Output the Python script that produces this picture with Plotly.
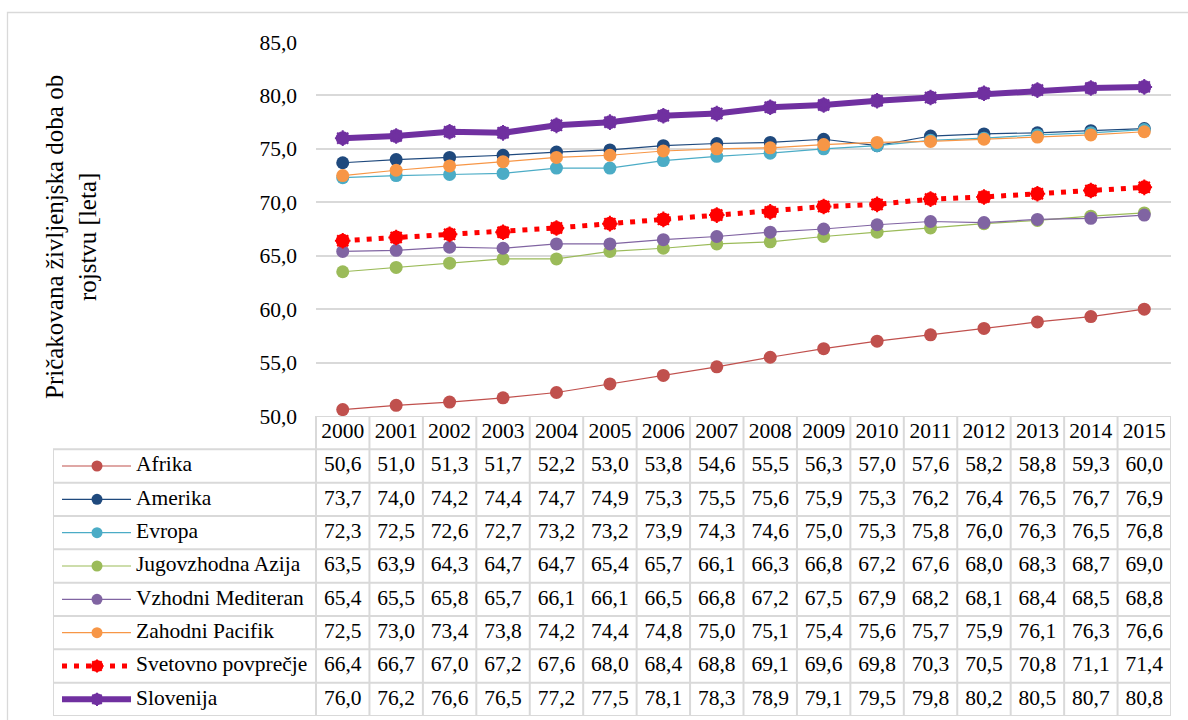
import plotly.graph_objects as go

# Life expectancy at birth by WHO region, Slovenia and world average
years = list(range(2000, 2016))
series_names = [
    "Afrika", "Amerika", "Evropa", "Jugovzhodna Azija",
    "Vzhodni Mediteran", "Zahodni Pacifik", "Svetovno povprečje", "Slovenija",
]
afrika = [50.6, 51.0, 51.3, 51.7, 52.2, 53.0, 53.8, 54.6, 55.5, 56.3, 57.0, 57.6, 58.2, 58.8, 59.3, 60.0]
amerika = [73.7, 74.0, 74.2, 74.4, 74.7, 74.9, 75.3, 75.5, 75.6, 75.9, 75.3, 76.2, 76.4, 76.5, 76.7, 76.9]
evropa = [72.3, 72.5, 72.6, 72.7, 73.2, 73.2, 73.9, 74.3, 74.6, 75.0, 75.3, 75.8, 76.0, 76.3, 76.5, 76.8]
jv_azija = [63.5, 63.9, 64.3, 64.7, 64.7, 65.4, 65.7, 66.1, 66.3, 66.8, 67.2, 67.6, 68.0, 68.3, 68.7, 69.0]
v_mediteran = [65.4, 65.5, 65.8, 65.7, 66.1, 66.1, 66.5, 66.8, 67.2, 67.5, 67.9, 68.2, 68.1, 68.4, 68.5, 68.8]
z_pacifik = [72.5, 73.0, 73.4, 73.8, 74.2, 74.4, 74.8, 75.0, 75.1, 75.4, 75.6, 75.7, 75.9, 76.1, 76.3, 76.6]
svet = [66.4, 66.7, 67.0, 67.2, 67.6, 68.0, 68.4, 68.8, 69.1, 69.6, 69.8, 70.3, 70.5, 70.8, 71.1, 71.4]
slovenija = [76.0, 76.2, 76.6, 76.5, 77.2, 77.5, 78.1, 78.3, 78.9, 79.1, 79.5, 79.8, 80.2, 80.5, 80.7, 80.8]
all_values = [afrika, amerika, evropa, jv_azija, v_mediteran, z_pacifik, svet, slovenija]
y_title = "Pričakovana življenjska doba ob<br>rojstvu [leta]"

# styles: (colour, line width, dash, marker size, spiky marker)
styles = [
    ("#C0504D", 1.2, "solid", 13, False),
    ("#1F497D", 1.2, "solid", 13, False),
    ("#4BACC6", 1.2, "solid", 13, False),
    ("#9BBB59", 1.2, "solid", 13, False),
    ("#8064A2", 1.2, "solid", 13, False),
    ("#F79646", 1.2, "solid", 13, False),
    ("#FF0000", 5, "5px,7px", 14, True),
    ("#7030A0", 6, "solid", 14, True),
]

W, H = 1188, 720
FONT = "Liberation Serif"
FS = 21.5
GRID = "#D9D9D9"

# pixel geometry
plot_l, plot_r, plot_t, plot_b = 316, 1171, 42, 416
table_l, table_b = 53, 716
n = len(years)
col_w = (plot_r - plot_l) / n
legend_cols = (plot_l - table_l) / col_w
x2_min = -0.5 - legend_cols


def px_to_x2(px):
    return x2_min + (px - table_l) / col_w


fig = go.Figure()
xs = list(range(n))

for name, vals, (col, lw, dash, ms, spiky) in zip(series_names, all_values, styles):
    fig.add_trace(go.Scatter(
        x=xs, y=vals, mode="lines+markers", name=name, showlegend=False,
        line=dict(color=col, width=lw, dash=dash),
        marker=dict(symbol="circle", size=ms, color=col, line=dict(width=0)),
        hoverinfo="skip",
    ))
    if spiky:
        # small jagged rim around the round marker
        fig.add_trace(go.Scatter(
            x=xs, y=vals, mode="markers", showlegend=False,
            marker=dict(symbol="asterisk-open", size=ms - 1, color=col,
                        line=dict(color=col, width=2)),
            hoverinfo="skip",
        ))

# data table: rows (header + one per series) on the second axis pair
n_rows = len(series_names) + 1


def row_y(r):
    return n_rows - r - 0.5


text_font = dict(family=FONT, size=FS, color="black")

# header years
fig.add_trace(go.Scatter(
    x=xs, y=[row_y(0)] * n, mode="text", text=[str(y) for y in years],
    textfont=text_font, xaxis="x2", yaxis="y2", showlegend=False, hoverinfo="skip",
))

leg_x0, leg_x1, leg_m, leg_txt = px_to_x2(62), px_to_x2(131), px_to_x2(97), px_to_x2(136)
for i, (name, vals, (col, lw, dash, ms, spiky)) in enumerate(zip(series_names, all_values, styles)):
    ry = row_y(i + 1)
    fig.add_trace(go.Scatter(
        x=xs, y=[ry] * n, mode="text",
        text=[f"{v:.1f}".replace(".", ",") for v in vals],
        textfont=text_font, xaxis="x2", yaxis="y2", showlegend=False, hoverinfo="skip",
    ))
    # legend key inside the table
    fig.add_trace(go.Scatter(
        x=[leg_x0, leg_x1], y=[ry, ry], mode="lines",
        line=dict(color=col, width=lw, dash=dash),
        xaxis="x2", yaxis="y2", showlegend=False, hoverinfo="skip",
    ))
    fig.add_trace(go.Scatter(
        x=[leg_m], y=[ry], mode="markers",
        marker=dict(symbol="circle", size=11 if not spiky else 12, color=col),
        xaxis="x2", yaxis="y2", showlegend=False, hoverinfo="skip",
    ))
    if spiky:
        fig.add_trace(go.Scatter(
            x=[leg_m], y=[ry], mode="markers",
            marker=dict(symbol="asterisk-open", size=11, color=col,
                        line=dict(color=col, width=2)),
            xaxis="x2", yaxis="y2", showlegend=False, hoverinfo="skip",
        ))
    fig.add_trace(go.Scatter(
        x=[leg_txt], y=[ry], mode="text", text=[name], textposition="middle right",
        textfont=text_font, xaxis="x2", yaxis="y2", showlegend=False, hoverinfo="skip",
    ))

# table grid lines
shapes = []
line_style = dict(color=GRID, width=2)
for k in range(0, n_rows):
    shapes.append(dict(type="line", xref="x2", yref="y2", x0=x2_min, x1=n - 0.5,
                       y0=k, y1=k, line=line_style, layer="below"))
shapes.append(dict(type="line", xref="x2", yref="y2", x0=-0.5, x1=n - 0.5,
                   y0=n_rows, y1=n_rows, line=line_style, layer="below"))
for c in range(n + 1):
    shapes.append(dict(type="line", xref="x2", yref="y2", x0=c - 0.5, x1=c - 0.5,
                       y0=0, y1=n_rows, line=line_style, layer="below"))
shapes.append(dict(type="line", xref="x2", yref="y2", x0=x2_min, x1=x2_min,
                   y0=0, y1=n_rows - 1, line=line_style, layer="below"))
# chart area border
shapes.append(dict(type="rect", xref="paper", yref="paper",
                   x0=7.5 / W, x1=1.01, y0=-0.01, y1=1 - 12.5 / H,
                   line=dict(color=GRID, width=1.3), layer="below"))

fig.update_layout(
    width=W, height=H,
    margin=dict(l=0, r=0, t=0, b=0, pad=0, autoexpand=False),
    paper_bgcolor="white", plot_bgcolor="white",
    separators=",.",
    font=dict(family=FONT, size=FS, color="black"),
    shapes=shapes,
    xaxis=dict(domain=[plot_l / W, plot_r / W], range=[-0.5, n - 0.5], automargin=False,
               showticklabels=False, showgrid=False, zeroline=False, fixedrange=True),
    yaxis=dict(domain=[1 - plot_b / H, 1 - plot_t / H], range=[50, 85], dtick=5,
               tickformat=".1f", showgrid=True, gridcolor=GRID, gridwidth=1.7,
               zeroline=False, showline=False, ticks="", ticklabelstandoff=18,
               automargin=False, tickfont=text_font),
    xaxis2=dict(domain=[table_l / W, plot_r / W], range=[x2_min, n - 0.5],
                visible=False, anchor="y2", automargin=False),
    yaxis2=dict(domain=[1 - table_b / H, 1 - plot_b / H], range=[0, n_rows],
                visible=False, anchor="x2", automargin=False),
    annotations=[dict(
        text=y_title, textangle=-90, xref="paper", yref="paper",
        x=71 / W, y=1 - 237 / H, xanchor="center", yanchor="middle",
        showarrow=False, align="center",
        font=dict(family=FONT, size=25, color="black"),
    )],
)

fig.write_html("out.html")
